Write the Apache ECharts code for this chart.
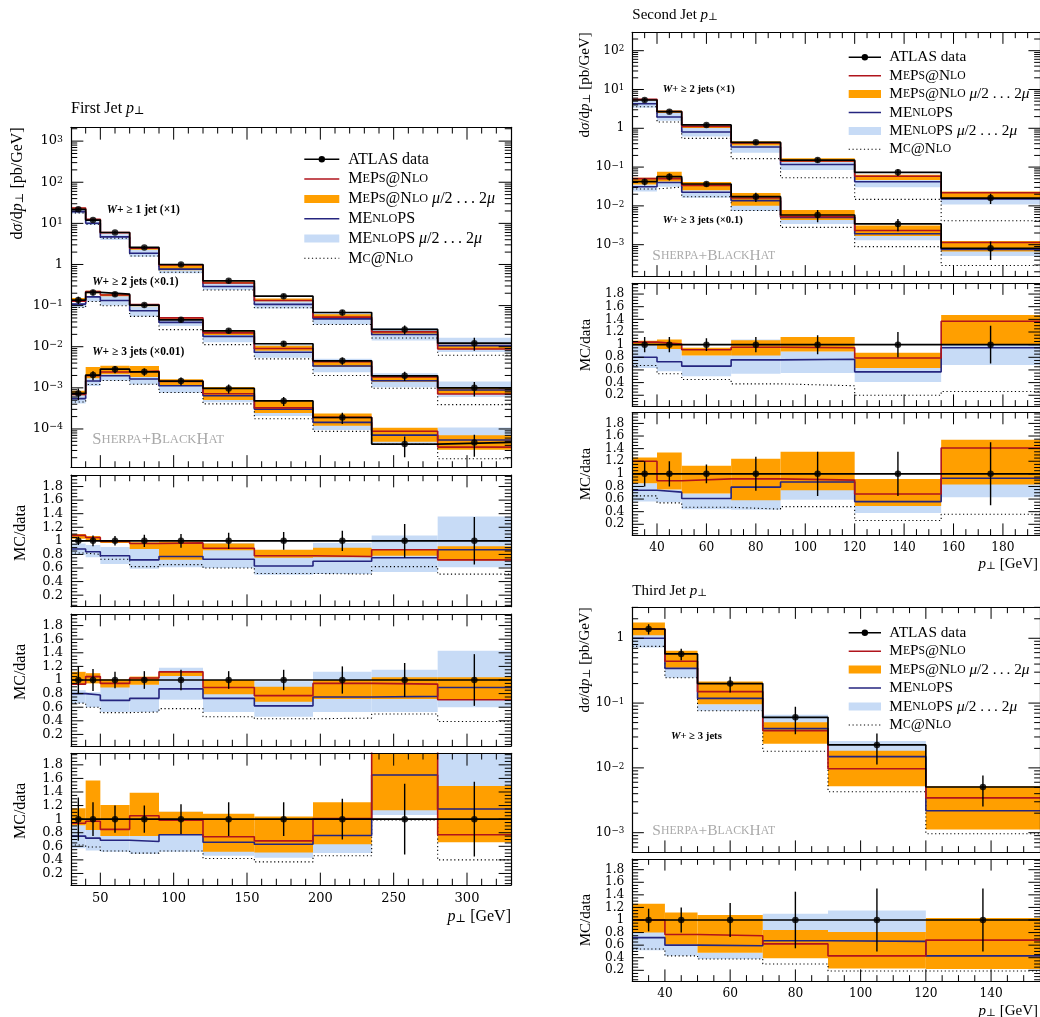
<!DOCTYPE html>
<html><head><meta charset="utf-8">
<script src="https://cdn.jsdelivr.net/npm/echarts@6/dist/echarts.min.js"></script>
<style>html,body{margin:0;padding:0;background:#fff}#c{width:1040px;height:1017px}</style>
</head><body><div id="c"></div><script>
// ===================== DATA =====================
// First jet pT  (bins and bin centres, GeV)
const firstJetEdges   = [30,40,50,70,90,120,155,195,235,280,330];
const firstJetCenters = [35,45,60,80,105,137.5,175,215,257.5,305];
// W + >=1 jet (x1)
const j1w1Data       = [21.9,12.0,6.0,2.6,1.0,0.40,0.170,0.068,0.0264,0.0122];
const j1w1Err        = [0.06,0.08,0.07,0.09,0.10,0.12,0.13,0.15,0.25,0.35];
const j1w1Meps       = [1.08,1.05,0.99,0.96,0.97,0.89,0.78,0.77,0.87,0.72];
const j1w1MepsLo     = [1.03,1.00,0.97,0.88,0.72,0.86,0.75,0.76,0.78,0.71];
const j1w1MepsHi     = [1.10,1.07,1.00,0.98,0.99,0.96,0.87,0.90,0.88,0.92];
const j1w1Menlops    = [0.88,0.84,0.78,0.72,0.77,0.73,0.63,0.70,0.75,0.87];
const j1w1MenlopsLo  = [0.79,0.76,0.66,0.59,0.61,0.60,0.50,0.51,0.54,0.61];
const j1w1MenlopsHi  = [0.96,0.94,0.91,0.89,0.95,0.97,0.86,0.97,1.08,1.36];
const j1w1Mcnlo      = [0.82,0.80,0.73,0.62,0.65,0.60,0.52,0.51,0.62,0.51];
// W + >=2 jets (x0.1)
const j1w2Data       = [1.36,2.09,1.9,1.03,0.45,0.244,0.118,0.0454,0.0196,0.0100];
const j1w2Err        = [0.20,0.16,0.12,0.13,0.15,0.13,0.15,0.20,0.25,0.38];
const j1w2Meps       = [0.94,1.05,0.95,1.03,1.12,0.89,0.77,0.95,0.94,0.71];
const j1w2MepsLo     = [0.94,0.95,0.89,0.93,1.06,0.79,0.68,0.72,0.72,0.71];
const j1w2MepsHi     = [1.12,1.10,1.01,1.05,1.12,1.00,0.90,1.00,1.04,1.04];
const j1w2Menlops    = [0.80,0.78,0.70,0.73,0.87,0.73,0.62,0.75,0.76,0.89];
const j1w2MenlopsLo  = [0.66,0.60,0.53,0.53,0.71,0.53,0.46,0.53,0.53,0.60];
const j1w2MenlopsHi  = [0.85,0.82,0.95,0.93,1.18,1.00,0.98,1.12,1.15,1.43];
const j1w2Mcnlo      = [0.66,0.60,0.52,0.53,0.58,0.46,0.43,0.44,0.50,0.39];
// W + >=3 jets (x0.01)
const j1w3Data       = [0.073,0.204,0.285,0.245,0.146,0.097,0.048,0.019,0.0043,0.0047];
const j1w3Err        = [0.32,0.25,0.20,0.20,0.22,0.25,0.25,0.30,0.52,0.55];
const j1w3Meps       = [0.94,0.97,0.85,1.05,0.985,0.74,0.68,1.01,2.05,0.77];
const j1w3MepsLo     = [0.91,0.84,0.75,0.75,0.77,0.52,0.51,0.63,1.13,0.66];
const j1w3MepsHi     = [1.16,1.57,1.21,1.39,1.11,1.08,1.04,1.25,2.50,1.49];
const j1w3Menlops    = [0.75,0.72,0.69,0.67,0.77,0.66,0.63,0.76,1.65,1.15];
const j1w3MenlopsLo  = [0.57,0.54,0.52,0.49,0.52,0.46,0.43,0.50,1.06,0.70];
const j1w3MenlopsHi  = [0.93,0.84,0.76,0.79,1.11,0.90,0.85,0.90,2.30,2.30];
const j1w3Mcnlo      = [0.62,0.59,0.53,0.50,0.53,0.42,0.37,0.46,0.99,0.40];

// Second jet pT
const secondJetEdges   = [30,40,50,70,90,120,155,195];
const secondJetCenters = [35,45,60,80,105,137.5,175];
// W + >=2 jets (x1)
const j2w2Data       = [5.36,2.68,1.22,0.435,0.152,0.0734,0.0159];
const j2w2Err        = [0.12,0.12,0.10,0.12,0.15,0.20,0.30];
const j2w2Meps       = [1.04,1.01,0.92,0.96,0.95,0.79,1.37];
const j2w2MepsLo     = [0.99,0.93,0.83,0.83,0.89,0.63,1.00];
const j2w2MepsHi     = [1.06,1.08,0.95,1.07,1.12,0.87,1.47];
const j2w2Menlops    = [0.80,0.73,0.66,0.76,0.77,0.57,0.95];
const j2w2MenlopsLo  = [0.63,0.58,0.50,0.54,0.55,0.41,0.68];
const j2w2MenlopsHi  = [0.99,0.93,0.83,1.08,0.89,0.63,1.10];
const j2w2Mcnlo      = [0.67,0.54,0.45,0.38,0.35,0.20,0.26];
// W + >=3 jets (x0.1)
const j2w3Data       = [0.42,0.566,0.367,0.173,0.0582,0.0342,0.0081];
const j2w3Err        = [0.20,0.20,0.15,0.27,0.35,0.35,0.50];
const j2w3Meps       = [1.20,0.89,0.92,0.92,0.90,0.68,1.41];
const j2w3MepsLo     = [0.85,0.75,0.69,0.58,0.74,0.49,0.83];
const j2w3MepsHi     = [1.26,1.34,1.13,1.24,1.35,0.92,1.54];
const j2w3Menlops    = [0.74,0.71,0.61,0.79,0.87,0.56,0.93];
const j2w3MenlopsLo  = [0.56,0.55,0.44,0.43,0.59,0.38,0.63];
const j2w3MenlopsHi  = [0.85,0.75,0.69,0.90,0.90,0.60,0.95];
const j2w3Mcnlo      = [0.65,0.54,0.47,0.44,0.48,0.26,0.36];

// Third jet pT, W + >=3 jets
const thirdJetEdges   = [30,40,50,70,90,120,155];
const thirdJetCenters = [35,45,60,80,105,137.5];
const j3w3Data       = [1.39,0.573,0.200,0.0603,0.0226,0.00507];
const j3w3Err        = [0.18,0.20,0.27,0.45,0.50,0.50];
const j3w3Meps       = [1.00,0.77,0.75,0.62,0.43,0.68];
const j3w3MepsLo     = [0.80,0.61,0.48,0.39,0.23,0.22];
const j3w3MepsHi     = [1.26,1.12,1.08,0.84,0.81,1.03];
const j3w3Menlops    = [0.72,0.60,0.59,0.67,0.66,0.43];
const j3w3MenlopsLo  = [0.52,0.43,0.38,0.40,0.40,0.30];
const j3w3MenlopsHi  = [0.81,0.61,0.48,1.10,1.15,0.60];
const j3w3Mcnlo      = [0.54,0.43,0.38,0.30,0.19,0.19];

// ===================== STYLE / LAYOUT =====================
const SERIF = '"Liberation Serif","DejaVu Serif",serif';
const TICKFONT = '"DejaVu Serif",serif';
const RED = '#b0141c', BLUE = '#25257f', ORANGE = '#ff9f00', LBLUE = '#c7dbf6';
const RATIO_RANGE = [0.03, 1.97];

const grids = [], xAxes = [], yAxes = [], series = [], graphics = [];

function supFmt(v) {
  const e = Math.round(Math.log10(v));
  if (e === 0) return '1';
  return '10{sup|' + (e < 0 ? '\u2212' + (-e) : e) + '}';
}

function addGrid(box, xr, yr, isLog, xMaj, xMin, showXLabels, fs) {
  const g = grids.length;
  grids.push({left: box[0], top: box[1], width: box[2], height: box[3], containLabel: false});
  const axLine = {show: true, onZero: false, lineStyle: {color: '#000', width: 1.2}};
  const base = {gridIndex: g, type: 'value', min: xr[0], max: xr[1],
    splitNumber: Math.round((xr[1] - xr[0]) / xMaj), axisLine: axLine,
    axisTick: {show: false}, splitLine: {show: false}, z: 10};
  xAxes.push(Object.assign({}, base, {position: 'bottom',
    axisLabel: showXLabels ? {show: true, showMinLabel: false, showMaxLabel: false,
      fontFamily: TICKFONT, fontSize: fs, color: '#000', margin: 7} : {show: false}}));
  xAxes.push(Object.assign({}, base, {position: 'top', axisLabel: {show: false}}));
  const ybase = isLog
    ? {gridIndex: g, type: 'log', logBase: 10, min: yr[0], max: yr[1]}
    : {gridIndex: g, type: 'value', min: yr[0], max: yr[1], splitNumber: 10};
  Object.assign(ybase, {axisLine: axLine, axisTick: {show: false}, splitLine: {show: false}, z: 10});
  yAxes.push(Object.assign({}, ybase, {position: 'left',
    axisLabel: {show: true, showMinLabel: false, showMaxLabel: false, fontFamily: TICKFONT,
      fontSize: fs, color: '#000', margin: 8,
      formatter: isLog ? supFmt : (v => Math.abs(v - 1) < 1e-9 ? '1' : v.toFixed(1)),
      rich: {sup: {fontSize: fs * 0.72, fontFamily: TICKFONT, verticalAlign: 'top', color: '#000'}}}}));
  yAxes.push(Object.assign({}, ybase, {position: 'right', axisLabel: {show: false}}));

  // tick marks (inside, on all four sides)
  const tickData = [];
  const LMaj = fs * 0.95, LMin = fs * 0.48;
  for (let v = Math.ceil(xr[0] / xMin) * xMin; v < xr[1]; v += xMin) {
    if (v <= xr[0]) continue;
    const isMaj = Math.abs(v / xMaj - Math.round(v / xMaj)) < 1e-9;
    tickData.push([v, yr[0], 0, isMaj ? LMaj : LMin]);
  }
  if (isLog) {
    for (let e = Math.floor(Math.log10(yr[0])); e <= Math.ceil(Math.log10(yr[1])); e++) {
      for (let k = 1; k <= 9; k++) {
        const v = k * Math.pow(10, e);
        if (v > yr[0] && v < yr[1]) tickData.push([xr[0], v, 1, k === 1 ? LMaj : LMin]);
      }
    }
  } else {
    for (let k = Math.ceil(yr[0] / 0.05); k * 0.05 < yr[1]; k++) {
      tickData.push([xr[0], k * 0.05, 1, k % 4 === 0 ? LMaj : LMin]);
    }
  }
  series.push({type: 'custom', xAxisIndex: 2 * g, yAxisIndex: 2 * g, z: 20, silent: true,
    encode: {x: 0, y: 1}, data: tickData,
    renderItem: function (p, api) {
      const kind = api.value(2), L = api.value(3);
      const st = {stroke: '#000', lineWidth: 1};
      if (kind === 0) {
        const b = api.coord([api.value(0), yr[0]]), t = api.coord([api.value(0), yr[1]]);
        return {type: 'group', children: [
          {type: 'line', shape: {x1: b[0], y1: b[1], x2: b[0], y2: b[1] - L}, style: st},
          {type: 'line', shape: {x1: t[0], y1: t[1], x2: t[0], y2: t[1] + L}, style: st}]};
      }
      const l = api.coord([xr[0], api.value(1)]), r = api.coord([xr[1], api.value(1)]);
      return {type: 'group', children: [
        {type: 'line', shape: {x1: l[0], y1: l[1], x2: l[0] + L, y2: l[1]}, style: st},
        {type: 'line', shape: {x1: r[0], y1: r[1], x2: r[0] - L, y2: r[1]}, style: st}]};
    }});
  return g;
}

function rectRender(color) {
  return function (p, api) {
    const a = api.coord([api.value(0), api.value(3)]);
    const b = api.coord([api.value(1), api.value(2)]);
    return {type: 'rect', shape: {x: a[0], y: a[1], width: b[0] - a[0], height: b[1] - a[1]},
      style: {fill: color}};
  };
}

// one histogram group: main (absolute = ratio * data * scale) or ratio (MC/data)
function addGroup(g, edges, centers, d, mode, scale) {
  const n = d.data.length;
  const f = (r, i) => mode === 'main' ? r * d.data[i] * scale : r;
  const xi = 2 * g, yi = 2 * g;
  const band = (lo, hi, color, z) => ({type: 'custom', xAxisIndex: xi, yAxisIndex: yi, z, clip: true,
    silent: true, encode: {x: [0, 1], y: [2, 3]}, renderItem: rectRender(color),
    data: lo.map((l, i) => [edges[i], edges[i + 1], f(l, i), f(hi[i], i)])});
  const step = (vals, color, width, type, z) => ({type: 'line', step: 'end', xAxisIndex: xi, yAxisIndex: yi,
    symbol: 'none', showSymbol: false, silent: true, z, clip: true,
    lineStyle: {color, width, type},
    data: vals.map((v, i) => [edges[i], f(v, i)]).concat([[edges[n], f(vals[n - 1], n - 1)]])});
  const ones = d.data.map(() => 1);
  series.push(band(d.menlopsLo, d.menlopsHi, LBLUE, 2));
  series.push(band(d.mepsLo, d.mepsHi, ORANGE, 3));
  series.push(step(d.mcnlo, '#000', 1.1, [1.2, 2.6], 4));
  series.push(step(d.menlops, BLUE, 1.6, 'solid', 5));
  series.push(step(d.meps, RED, 1.6, 'solid', 6));
  series.push(step(ones, '#000', 1.7, 'solid', 7));
  series.push({type: 'custom', xAxisIndex: xi, yAxisIndex: yi, z: 8, silent: true, clip: true,
    encode: {x: 0, y: [1, 2]},
    data: centers.map((c, i) => [c, f(1 - d.err[i], i), f(1 + d.err[i], i)]),
    renderItem: function (p, api) {
      const a = api.coord([api.value(0), api.value(1)]), b = api.coord([api.value(0), api.value(2)]);
      return {type: 'line', shape: {x1: a[0], y1: a[1], x2: b[0], y2: b[1]}, style: {stroke: '#000', lineWidth: 1.4}};
    }});
  series.push({type: 'scatter', xAxisIndex: xi, yAxisIndex: yi, z: 9, silent: true, symbol: 'circle',
    symbolSize: 6.5, itemStyle: {color: '#000'}, data: centers.map((c, i) => [c, f(1, i)])});
}

function pack(data, err, meps, mepsLo, mepsHi, menlops, menlopsLo, menlopsHi, mcnlo) {
  return {data, err, meps, mepsLo, mepsHi, menlops, menlopsLo, menlopsHi, mcnlo};
}
const j1w1 = pack(j1w1Data, j1w1Err, j1w1Meps, j1w1MepsLo, j1w1MepsHi, j1w1Menlops, j1w1MenlopsLo, j1w1MenlopsHi, j1w1Mcnlo);
const j1w2 = pack(j1w2Data, j1w2Err, j1w2Meps, j1w2MepsLo, j1w2MepsHi, j1w2Menlops, j1w2MenlopsLo, j1w2MenlopsHi, j1w2Mcnlo);
const j1w3 = pack(j1w3Data, j1w3Err, j1w3Meps, j1w3MepsLo, j1w3MepsHi, j1w3Menlops, j1w3MenlopsLo, j1w3MenlopsHi, j1w3Mcnlo);
const j2w2 = pack(j2w2Data, j2w2Err, j2w2Meps, j2w2MepsLo, j2w2MepsHi, j2w2Menlops, j2w2MenlopsLo, j2w2MenlopsHi, j2w2Mcnlo);
const j2w3 = pack(j2w3Data, j2w3Err, j2w3Meps, j2w3MepsLo, j2w3MepsHi, j2w3Menlops, j2w3MenlopsLo, j2w3MenlopsHi, j2w3Mcnlo);
const j3w3 = pack(j3w3Data, j3w3Err, j3w3Meps, j3w3MepsLo, j3w3MepsHi, j3w3Menlops, j3w3MenlopsLo, j3w3MenlopsHi, j3w3Mcnlo);

// ---------- First jet (left) ----------
const LX = 71, LW = 440;
const FJX = [30, 330];
let g;
g = addGrid([LX, 127.3, LW, 340.2], FJX, [Math.pow(10, -4.937), Math.pow(10, 3.336)], true, 50, 10, false, 13);
addGroup(g, firstJetEdges, firstJetCenters, j1w1, 'main', 1);
addGroup(g, firstJetEdges, firstJetCenters, j1w2, 'main', 0.1);
addGroup(g, firstJetEdges, firstJetCenters, j1w3, 'main', 0.01);
g = addGrid([LX, 475, LW, 131.7], FJX, RATIO_RANGE, false, 50, 10, false, 13);
addGroup(g, firstJetEdges, firstJetCenters, j1w1, 'ratio', 1);
g = addGrid([LX, 614, LW, 132], FJX, RATIO_RANGE, false, 50, 10, false, 13);
addGroup(g, firstJetEdges, firstJetCenters, j1w2, 'ratio', 1);
g = addGrid([LX, 753.3, LW, 131.7], FJX, RATIO_RANGE, false, 50, 10, true, 13);
addGroup(g, firstJetEdges, firstJetCenters, j1w3, 'ratio', 1);

// ---------- Second jet (top right) ----------
const RX = 632.3, RW = 408;
g = addGrid([RX, 32.3, RW, 244.4], [30, 195], [Math.pow(10, -3.825), Math.pow(10, 2.474)], true, 20, 5, false, 12.2);
addGroup(g, secondJetEdges, secondJetCenters, j2w2, 'main', 1);
addGroup(g, secondJetEdges, secondJetCenters, j2w3, 'main', 0.1);
g = addGrid([RX, 283.3, RW, 122.7], [30, 195], RATIO_RANGE, false, 20, 5, false, 12.2);
addGroup(g, secondJetEdges, secondJetCenters, j2w2, 'ratio', 1);
g = addGrid([RX, 412.7, RW, 122.3], [30, 195], RATIO_RANGE, false, 20, 5, true, 12.2);
addGroup(g, secondJetEdges, secondJetCenters, j2w3, 'ratio', 1);

// ---------- Third jet (bottom right) ----------
g = addGrid([RX, 607.3, RW, 244.7], [30, 155], [Math.pow(10, -3.298), Math.pow(10, 0.478)], true, 20, 5, false, 12.2);
addGroup(g, thirdJetEdges, thirdJetCenters, j3w3, 'main', 1);
g = addGrid([RX, 859, RW, 122], [30, 155], RATIO_RANGE, false, 20, 5, true, 12.2);
addGroup(g, thirdJetEdges, thirdJetCenters, j3w3, 'ratio', 1);

// ===================== TEXT / LEGENDS =====================
function txt(x, y, text, fs, opts) {
  opts = opts || {};
  const col = opts.color || '#000';
  const rich = {
    s: {fontSize: fs * 0.76, fontFamily: SERIF, fill: col, fontWeight: opts.weight || 'normal'},
    i: {fontSize: fs, fontFamily: SERIF, fontStyle: 'italic', fill: col, fontWeight: opts.weight || 'normal'},
    sub: {fontSize: fs * 0.7, fontFamily: SERIF, verticalAlign: 'bottom', fill: col},
    g: {fontSize: fs * 0.76, fontFamily: SERIF, fill: col}
  };
  graphics.push({type: 'text', x, y, rotation: opts.rot || 0, z: 50, silent: true,
    style: {text, rich, fontSize: fs, fontFamily: SERIF, fontWeight: opts.weight || 'normal',
      fill: col, align: opts.align || 'left', textAlign: opts.align || 'left',
      verticalAlign: 'middle', textVerticalAlign: 'middle'}});
}

function legend(x0, x1, tx, y0, dy, fs) {
  const rows = [
    {k: 'data', t: 'ATLAS data'},
    {k: 'line', c: RED, t: 'M{s|E}P{s|S}@N{s|LO}'},
    {k: 'rect', c: ORANGE, t: 'M{s|E}P{s|S}@N{s|LO} {i|\u03bc}/2 .\u2009.\u2009. 2{i|\u03bc}'},
    {k: 'line', c: BLUE, t: 'ME{s|NLO}PS'},
    {k: 'rect', c: LBLUE, t: 'ME{s|NLO}PS {i|\u03bc}/2 .\u2009.\u2009. 2{i|\u03bc}'},
    {k: 'dot', t: 'M{s|C}@N{s|LO}'}];
  rows.forEach((r, i) => {
    const y = y0 + i * dy;
    if (r.k === 'data') {
      graphics.push({type: 'line', z: 50, silent: true, shape: {x1: x0, y1: y, x2: x1, y2: y}, style: {stroke: '#000', lineWidth: 1.6}});
      graphics.push({type: 'circle', z: 51, silent: true, shape: {cx: (x0 + x1) / 2, cy: y, r: 3.2}, style: {fill: '#000'}});
    } else if (r.k === 'line') {
      graphics.push({type: 'line', z: 50, silent: true, shape: {x1: x0, y1: y, x2: x1, y2: y}, style: {stroke: r.c, lineWidth: 1.5}});
    } else if (r.k === 'rect') {
      graphics.push({type: 'rect', z: 50, silent: true, shape: {x: x0, y: y - 4, width: x1 - x0, height: 8}, style: {fill: r.c}});
    } else {
      graphics.push({type: 'line', z: 50, silent: true, shape: {x1: x0, y1: y, x2: x1, y2: y}, style: {stroke: '#000', lineWidth: 1.1, lineDash: [1.2, 2.6]}});
    }
    txt(tx, y, r.t, fs);
  });
}

// titles
txt(71, 109, 'First Jet {i|p}{sub|\u22a5}', 16);
txt(632.3, 15, 'Second Jet {i|p}{sub|\u22a5}', 15);
txt(632.3, 591, 'Third Jet {i|p}{sub|\u22a5}', 15);
// legends
legend(304.3, 339.3, 348.3, 159.3, 19.8, 16);
legend(848.7, 881, 889.3, 57.3, 18.4, 15.3);
legend(848.7, 881, 889.3, 632.7, 18.46, 15.3);
// process labels
txt(106.7, 210, '{i|W}+ \u2265 1 jet (\u00d71)', 11.5, {weight: 'bold'});
txt(92.3, 281.7, '{i|W}+ \u2265 2 jets (\u00d70.1)', 11.5, {weight: 'bold'});
txt(92.3, 351.7, '{i|W}+ \u2265 3 jets (\u00d70.01)', 11.5, {weight: 'bold'});
txt(662.7, 89.3, '{i|W}+ \u2265 2 jets (\u00d71)', 10.7, {weight: 'bold'});
txt(662.7, 220.7, '{i|W}+ \u2265 3 jets (\u00d70.1)', 10.7, {weight: 'bold'});
txt(671, 736.7, '{i|W}+ \u2265 3 jets', 10.7, {weight: 'bold'});
// generator tag
txt(92.3, 440, 'S{g|HERPA}+B{g|LACK}H{g|AT}', 16.6, {color: '#aaaaaa'});
txt(652.3, 256, 'S{g|HERPA}+B{g|LACK}H{g|AT}', 15.5, {color: '#aaaaaa'});
txt(652.3, 830.7, 'S{g|HERPA}+B{g|LACK}H{g|AT}', 15.5, {color: '#aaaaaa'});
// axis titles
const ylab = 'd{i|\u03c3}/d{i|p}{sub|\u22a5} [pb/GeV]';
txt(18, 127.3, ylab, 16, {rot: Math.PI / 2, align: 'right'});
txt(585, 32.3, ylab, 15, {rot: Math.PI / 2, align: 'right'});
txt(585, 607.3, ylab, 15, {rot: Math.PI / 2, align: 'right'});
txt(21, 533, 'MC/data', 16, {rot: Math.PI / 2, align: 'center'});
txt(21, 672, 'MC/data', 16, {rot: Math.PI / 2, align: 'center'});
txt(21, 811, 'MC/data', 16, {rot: Math.PI / 2, align: 'center'});
txt(586, 345, 'MC/data', 15, {rot: Math.PI / 2, align: 'center'});
txt(586, 474, 'MC/data', 15, {rot: Math.PI / 2, align: 'center'});
txt(586, 920, 'MC/data', 15, {rot: Math.PI / 2, align: 'center'});
txt(511, 917, '{i|p}{sub|\u22a5} [GeV]', 16, {align: 'right'});
txt(1038, 564, '{i|p}{sub|\u22a5} [GeV]', 15, {align: 'right'});
txt(1038, 1011, '{i|p}{sub|\u22a5} [GeV]', 15, {align: 'right'});

const chart = echarts.init(document.getElementById('c'), null, {renderer: 'canvas'});
chart.setOption({animation: false, backgroundColor: '#fff', grid: grids, xAxis: xAxes, yAxis: yAxes,
  series, graphic: {elements: graphics}});
</script></body></html>
